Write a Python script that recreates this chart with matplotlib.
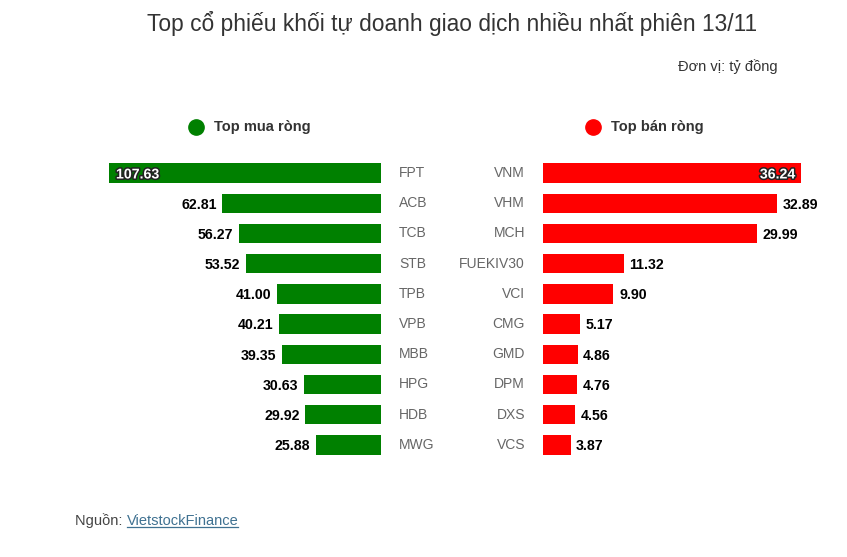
import matplotlib

matplotlib.use("Agg")
import matplotlib.pyplot as plt
import matplotlib.patheffects as pe
from matplotlib.lines import Line2D

plt.rcParams["font.family"] = ["Liberation Sans", "DejaVu Sans"]

TITLE = "Top cổ phiếu khối tự doanh giao dịch nhiều nhất phiên 13/11"
UNIT = "Đơn vị: tỷ đồng"

buy_tickers = ["FPT", "ACB", "TCB", "STB", "TPB", "VPB", "MBB", "HPG", "HDB", "MWG"]
buy_values = [107.63, 62.81, 56.27, 53.52, 41.00, 40.21, 39.35, 30.63, 29.92, 25.88]

sell_tickers = ["VNM", "VHM", "MCH", "FUEKIV30", "VCI", "CMG", "GMD", "DPM", "DXS", "VCS"]
sell_values = [36.24, 32.89, 29.99, 11.32, 9.90, 5.17, 4.86, 4.76, 4.56, 3.87]

GREEN = "#008000"
RED = "#ff0000"
TICK_GRAY = "#666666"
TEXT_DARK = "#333333"

W, H = 847, 557


def fx(px):
    return px / W


def fy(py):
    return 1 - py / H


def main():
    fig = plt.figure(figsize=(W / 100, H / 100), dpi=100)
    fig.patch.set_facecolor("white")

    bottom = fy(460)
    height = 302 / H
    ax_buy = fig.add_axes([fx(109), bottom, 272 / W, height])
    ax_sell = fig.add_axes([fx(543), bottom, 258 / W, height])

    outline = [pe.withStroke(linewidth=2.2, foreground="#222222")]

    # mua ròng (bars grow to the left)
    rows = range(len(buy_values))
    ax_buy.barh(list(rows), buy_values, height=0.64, color=GREEN)
    ax_buy.set_xlim(max(buy_values), 0)
    ax_buy.set_ylim(len(buy_values) - 0.5, -0.5)
    for i, (name, v) in enumerate(zip(buy_tickers, buy_values)):
        if v == max(buy_values):
            ax_buy.annotate(f"{v:.2f}", (v, i), xytext=(5, -1), textcoords="offset points",
                            ha="left", va="center", fontsize=10.2, fontweight="bold",
                            color="white", path_effects=outline)
        else:
            ax_buy.annotate(f"{v:.2f}", (v, i), xytext=(-4, -1), textcoords="offset points",
                            ha="right", va="center", fontsize=10.2, fontweight="bold",
                            color="black")
        ax_buy.annotate(name, (0, i), xytext=(13, 0), textcoords="offset points",
                        ha="left", va="center", fontsize=10, color=TICK_GRAY)

    # bán ròng (bars grow to the right)
    rows = range(len(sell_values))
    ax_sell.barh(list(rows), sell_values, height=0.64, color=RED)
    ax_sell.set_xlim(0, max(sell_values))
    ax_sell.set_ylim(len(sell_values) - 0.5, -0.5)
    for i, (name, v) in enumerate(zip(sell_tickers, sell_values)):
        if v == max(sell_values):
            ax_sell.annotate(f"{v:.2f}", (v, i), xytext=(-4, -1), textcoords="offset points",
                             ha="right", va="center", fontsize=10.2, fontweight="bold",
                             color="white", path_effects=outline)
        else:
            ax_sell.annotate(f"{v:.2f}", (v, i), xytext=(4, -1), textcoords="offset points",
                             ha="left", va="center", fontsize=10.2, fontweight="bold",
                             color="black")
        ax_sell.annotate(name, (0, i), xytext=(-13, 0), textcoords="offset points",
                         ha="right", va="center", fontsize=10, color=TICK_GRAY)

    for ax in (ax_buy, ax_sell):
        ax.axis("off")

    # title / unit
    fig.text(fx(452), fy(24), TITLE, ha="center", va="center", fontsize=16.4, color=TEXT_DARK)
    fig.text(fx(778), fy(67), UNIT, ha="right", va="center", fontsize=10.5, color=TEXT_DARK)

    # legend headers
    fig.add_artist(Line2D([fx(196)], [fy(127)], marker="o", markersize=11,
                          color=GREEN, transform=fig.transFigure))
    fig.text(fx(214), fy(127), "Top mua ròng", ha="left", va="center",
             fontsize=10.5, fontweight="bold", color=TEXT_DARK)
    fig.add_artist(Line2D([fx(593)], [fy(127)], marker="o", markersize=11,
                          color=RED, transform=fig.transFigure))
    fig.text(fx(611), fy(127), "Top bán ròng", ha="left", va="center",
             fontsize=10.5, fontweight="bold", color=TEXT_DARK)

    # source line
    src = fig.text(fx(75), fy(521), "Nguồn: ", ha="left", va="center",
                   fontsize=10.5, color="#444444")
    fig.canvas.draw()
    bb = src.get_window_extent()
    link = fig.text(bb.x1 / W, fy(521), "VietstockFinance", ha="left", va="center",
                    fontsize=10.5, color="#3f7191")
    fig.canvas.draw()
    lb = link.get_window_extent()
    fig.add_artist(Line2D([lb.x0 / W, lb.x1 / W], [(lb.y0 + 1) / H] * 2,
                          color="#3f7191", linewidth=0.9, transform=fig.transFigure))

    fig.savefig("out.png", dpi=100, facecolor="white")
    plt.close(fig)


if __name__ == "__main__":
    main()
